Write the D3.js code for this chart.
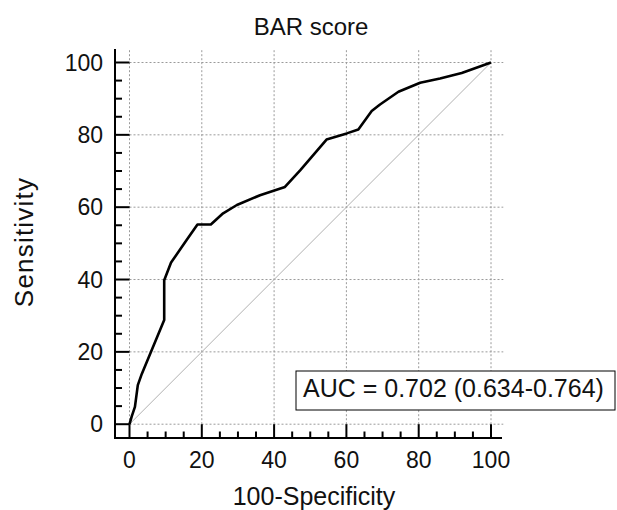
<!DOCTYPE html>
<html>
<head>
<meta charset="utf-8">
<script src="https://cdn.jsdelivr.net/npm/d3@7"></script>
<style>
  html, body { margin: 0; padding: 0; background: #fff; }
  svg { display: block; }
  text { font-family: "Liberation Sans", Arial, sans-serif; fill: #111; }
</style>
</head>
<body>
<svg id="chart" width="617" height="510"></svg>
<script>
// ---- data ----
const title = "BAR score";
const xLabel = "100-Specificity";
const yLabel = "Sensitivity";
const aucText = "AUC = 0.702 (0.634-0.764)";
const fpr = [0, 0.6, 1.5, 2.3, 3.4, 9.6, 9.6, 11.5, 15.8, 18.8, 22.5, 25.9, 29.7, 36.1, 43.0, 47.2, 54.5, 60.1, 63.3, 67.0, 69.3, 74.4, 80.4, 85.9, 91.9, 100];
const tpr = [0, 2.1, 4.8, 10.8, 13.9, 28.8, 39.8, 44.7, 50.9, 55.2, 55.2, 58.3, 60.6, 63.3, 65.6, 70.2, 78.7, 80.4, 81.5, 86.6, 88.4, 91.9, 94.4, 95.6, 97.1, 100];
const majorTicks = [0, 20, 40, 60, 80, 100];
const minorTicks = [5, 10, 15, 25, 30, 35, 45, 50, 55, 65, 70, 75, 85, 90, 95];

// ---- layout ----
const svg = d3.select("#chart");
const x = d3.scaleLinear().domain([0, 100]).range([129.5, 491]);
const y = d3.scaleLinear().domain([0, 100]).range([424.2, 62.5]);
const plotMax = 103.4;
const axisX = 115, axisY = 438;

// grid
const grid = svg.append("g").attr("stroke", "#9a9a9a").attr("stroke-width", 1).attr("stroke-dasharray", "2,2");
majorTicks.forEach(v => {
  grid.append("line").attr("x1", x(v)).attr("x2", x(v)).attr("y1", y(0)).attr("y2", y(plotMax));
  grid.append("line").attr("y1", y(v)).attr("y2", y(v)).attr("x1", x(0)).attr("x2", x(plotMax));
});

// diagonal
svg.append("line")
  .attr("x1", x(0)).attr("y1", y(0)).attr("x2", x(100)).attr("y2", y(100))
  .attr("stroke", "#b0b0b0").attr("stroke-width", 1);

// ROC curve
const pts = fpr.map((d, i) => [d, tpr[i]]);
svg.append("path")
  .datum(pts)
  .attr("fill", "none")
  .attr("stroke", "#000")
  .attr("stroke-width", 2.6)
  .attr("stroke-linejoin", "round")
  .attr("d", d3.line().x(d => x(d[0])).y(d => y(d[1])));

// axes
const ax = svg.append("g").attr("stroke", "#000").attr("stroke-width", 2);
ax.append("line").attr("x1", axisX).attr("x2", axisX).attr("y1", 49).attr("y2", axisY + 1);
ax.append("line").attr("x1", axisX - 1).attr("x2", 502).attr("y1", axisY).attr("y2", axisY);
majorTicks.forEach(v => {
  ax.append("line").attr("x1", axisX).attr("x2", x(0)).attr("y1", y(v)).attr("y2", y(v));
  ax.append("line").attr("x1", x(v)).attr("x2", x(v)).attr("y1", axisY).attr("y2", y(0));
});
minorTicks.forEach(v => {
  ax.append("line").attr("x1", axisX).attr("x2", axisX + 7).attr("y1", y(v)).attr("y2", y(v));
  ax.append("line").attr("x1", x(v)).attr("x2", x(v)).attr("y1", axisY).attr("y2", axisY - 6.5);
});

// tick labels
svg.append("g").selectAll("text").data(majorTicks).join("text")
  .attr("x", 103).attr("y", d => y(d)).attr("dy", "0.35em")
  .attr("text-anchor", "end").attr("font-size", 23).text(d => d);
svg.append("g").selectAll("text").data(majorTicks).join("text")
  .attr("x", d => x(d)).attr("y", 468)
  .attr("text-anchor", "middle").attr("font-size", 23).text(d => d);

// titles
svg.append("text").attr("x", 311).attr("y", 35).attr("text-anchor", "middle").attr("font-size", 24).text(title);
svg.append("text").attr("x", 314).attr("y", 505).attr("text-anchor", "middle").attr("font-size", 25).text(xLabel);
svg.append("text").attr("transform", "translate(33,242) rotate(-90)").attr("text-anchor", "middle")
  .attr("font-size", 26).attr("letter-spacing", 1.2).text(yLabel);

// AUC box
svg.append("rect").attr("x", 296).attr("y", 371).attr("width", 319).attr("height", 39)
  .attr("fill", "#fff").attr("stroke", "#000").attr("stroke-width", 1);
svg.append("text").attr("x", 303).attr("y", 397).attr("font-size", 25).text(aucText);
</script>
</body>
</html>
